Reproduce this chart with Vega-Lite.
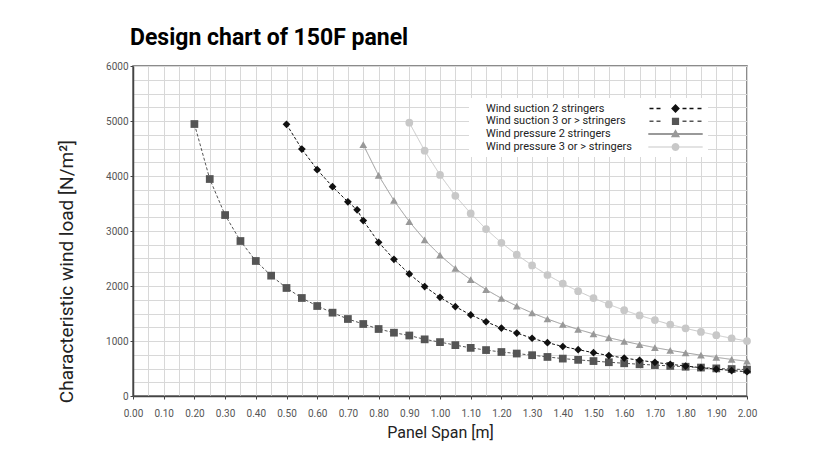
{
  "$schema": "https://vega.github.io/schema/vega-lite/v6.json",
  "width": 614,
  "height": 330,
  "autosize": {"type": "none"},
  "padding": {"left": 133, "top": 66, "right": 91, "bottom": 58},
  "background": "white",
  "config": {
    "font": "Roboto",
    "view": {"stroke": "#666666", "strokeWidth": 1.5}
  },
  "title": {
    "text": "Design chart of 150F panel",
    "anchor": "start",
    "frame": "group",
    "font": "Roboto",
    "fontSize": 23,
    "fontWeight": "bold",
    "color": "#000000",
    "baseline": "alphabetic",
    "offset": -7,
    "dx": -3
  },
  "resolve": {"scale": {"color": "independent", "shape": "independent"}},
  "data": {
    "values": [
      {"series": "Wind pressure 3 or > stringers", "x": 0.9, "y": 4970},
      {"series": "Wind pressure 3 or > stringers", "x": 0.95, "y": 4460},
      {"series": "Wind pressure 3 or > stringers", "x": 1.0, "y": 4020},
      {"series": "Wind pressure 3 or > stringers", "x": 1.05, "y": 3640},
      {"series": "Wind pressure 3 or > stringers", "x": 1.1, "y": 3320},
      {"series": "Wind pressure 3 or > stringers", "x": 1.15, "y": 3035},
      {"series": "Wind pressure 3 or > stringers", "x": 1.2, "y": 2785},
      {"series": "Wind pressure 3 or > stringers", "x": 1.25, "y": 2570},
      {"series": "Wind pressure 3 or > stringers", "x": 1.3, "y": 2375},
      {"series": "Wind pressure 3 or > stringers", "x": 1.35, "y": 2200},
      {"series": "Wind pressure 3 or > stringers", "x": 1.4, "y": 2045},
      {"series": "Wind pressure 3 or > stringers", "x": 1.45, "y": 1905},
      {"series": "Wind pressure 3 or > stringers", "x": 1.5, "y": 1780},
      {"series": "Wind pressure 3 or > stringers", "x": 1.55, "y": 1665},
      {"series": "Wind pressure 3 or > stringers", "x": 1.6, "y": 1560},
      {"series": "Wind pressure 3 or > stringers", "x": 1.65, "y": 1465},
      {"series": "Wind pressure 3 or > stringers", "x": 1.7, "y": 1380},
      {"series": "Wind pressure 3 or > stringers", "x": 1.75, "y": 1300},
      {"series": "Wind pressure 3 or > stringers", "x": 1.8, "y": 1230},
      {"series": "Wind pressure 3 or > stringers", "x": 1.85, "y": 1165},
      {"series": "Wind pressure 3 or > stringers", "x": 1.9, "y": 1105},
      {"series": "Wind pressure 3 or > stringers", "x": 1.95, "y": 1050},
      {"series": "Wind pressure 3 or > stringers", "x": 2.0, "y": 1000},

      {"series": "Wind pressure 2 stringers", "x": 0.75, "y": 4570},
      {"series": "Wind pressure 2 stringers", "x": 0.8, "y": 4010},
      {"series": "Wind pressure 2 stringers", "x": 0.85, "y": 3555},
      {"series": "Wind pressure 2 stringers", "x": 0.9, "y": 3170},
      {"series": "Wind pressure 2 stringers", "x": 0.95, "y": 2840},
      {"series": "Wind pressure 2 stringers", "x": 1.0, "y": 2560},
      {"series": "Wind pressure 2 stringers", "x": 1.05, "y": 2320},
      {"series": "Wind pressure 2 stringers", "x": 1.1, "y": 2115},
      {"series": "Wind pressure 2 stringers", "x": 1.15, "y": 1935},
      {"series": "Wind pressure 2 stringers", "x": 1.2, "y": 1775},
      {"series": "Wind pressure 2 stringers", "x": 1.25, "y": 1635},
      {"series": "Wind pressure 2 stringers", "x": 1.3, "y": 1510},
      {"series": "Wind pressure 2 stringers", "x": 1.35, "y": 1400},
      {"series": "Wind pressure 2 stringers", "x": 1.4, "y": 1300},
      {"series": "Wind pressure 2 stringers", "x": 1.45, "y": 1210},
      {"series": "Wind pressure 2 stringers", "x": 1.5, "y": 1130},
      {"series": "Wind pressure 2 stringers", "x": 1.55, "y": 1060},
      {"series": "Wind pressure 2 stringers", "x": 1.6, "y": 995},
      {"series": "Wind pressure 2 stringers", "x": 1.65, "y": 935},
      {"series": "Wind pressure 2 stringers", "x": 1.7, "y": 880},
      {"series": "Wind pressure 2 stringers", "x": 1.75, "y": 830},
      {"series": "Wind pressure 2 stringers", "x": 1.8, "y": 785},
      {"series": "Wind pressure 2 stringers", "x": 1.85, "y": 742},
      {"series": "Wind pressure 2 stringers", "x": 1.9, "y": 703},
      {"series": "Wind pressure 2 stringers", "x": 1.95, "y": 665},
      {"series": "Wind pressure 2 stringers", "x": 2.0, "y": 632},

      {"series": "Wind suction 3 or > stringers", "x": 0.2, "y": 4945},
      {"series": "Wind suction 3 or > stringers", "x": 0.25, "y": 3945},
      {"series": "Wind suction 3 or > stringers", "x": 0.3, "y": 3290},
      {"series": "Wind suction 3 or > stringers", "x": 0.35, "y": 2818},
      {"series": "Wind suction 3 or > stringers", "x": 0.4, "y": 2455},
      {"series": "Wind suction 3 or > stringers", "x": 0.45, "y": 2188},
      {"series": "Wind suction 3 or > stringers", "x": 0.5, "y": 1964},
      {"series": "Wind suction 3 or > stringers", "x": 0.55, "y": 1782},
      {"series": "Wind suction 3 or > stringers", "x": 0.6, "y": 1636},
      {"series": "Wind suction 3 or > stringers", "x": 0.65, "y": 1515},
      {"series": "Wind suction 3 or > stringers", "x": 0.7, "y": 1400},
      {"series": "Wind suction 3 or > stringers", "x": 0.75, "y": 1309},
      {"series": "Wind suction 3 or > stringers", "x": 0.8, "y": 1218},
      {"series": "Wind suction 3 or > stringers", "x": 0.85, "y": 1151},
      {"series": "Wind suction 3 or > stringers", "x": 0.9, "y": 1100},
      {"series": "Wind suction 3 or > stringers", "x": 0.95, "y": 1030},
      {"series": "Wind suction 3 or > stringers", "x": 1.0, "y": 980},
      {"series": "Wind suction 3 or > stringers", "x": 1.05, "y": 925},
      {"series": "Wind suction 3 or > stringers", "x": 1.1, "y": 875},
      {"series": "Wind suction 3 or > stringers", "x": 1.15, "y": 835},
      {"series": "Wind suction 3 or > stringers", "x": 1.2, "y": 800},
      {"series": "Wind suction 3 or > stringers", "x": 1.25, "y": 772},
      {"series": "Wind suction 3 or > stringers", "x": 1.3, "y": 742},
      {"series": "Wind suction 3 or > stringers", "x": 1.35, "y": 710},
      {"series": "Wind suction 3 or > stringers", "x": 1.4, "y": 680},
      {"series": "Wind suction 3 or > stringers", "x": 1.45, "y": 657},
      {"series": "Wind suction 3 or > stringers", "x": 1.5, "y": 635},
      {"series": "Wind suction 3 or > stringers", "x": 1.55, "y": 614},
      {"series": "Wind suction 3 or > stringers", "x": 1.6, "y": 595},
      {"series": "Wind suction 3 or > stringers", "x": 1.65, "y": 577},
      {"series": "Wind suction 3 or > stringers", "x": 1.7, "y": 562},
      {"series": "Wind suction 3 or > stringers", "x": 1.75, "y": 547},
      {"series": "Wind suction 3 or > stringers", "x": 1.8, "y": 532},
      {"series": "Wind suction 3 or > stringers", "x": 1.85, "y": 517},
      {"series": "Wind suction 3 or > stringers", "x": 1.9, "y": 502},
      {"series": "Wind suction 3 or > stringers", "x": 1.95, "y": 490},
      {"series": "Wind suction 3 or > stringers", "x": 2.0, "y": 480},

      {"series": "Wind suction 2 stringers", "x": 0.5, "y": 4940},
      {"series": "Wind suction 2 stringers", "x": 0.55, "y": 4490},
      {"series": "Wind suction 2 stringers", "x": 0.6, "y": 4115},
      {"series": "Wind suction 2 stringers", "x": 0.65, "y": 3805},
      {"series": "Wind suction 2 stringers", "x": 0.7, "y": 3530},
      {"series": "Wind suction 2 stringers", "x": 0.73, "y": 3385},
      {"series": "Wind suction 2 stringers", "x": 0.75, "y": 3190},
      {"series": "Wind suction 2 stringers", "x": 0.8, "y": 2795},
      {"series": "Wind suction 2 stringers", "x": 0.85, "y": 2485},
      {"series": "Wind suction 2 stringers", "x": 0.9, "y": 2220},
      {"series": "Wind suction 2 stringers", "x": 0.95, "y": 1990},
      {"series": "Wind suction 2 stringers", "x": 1.0, "y": 1795},
      {"series": "Wind suction 2 stringers", "x": 1.05, "y": 1625},
      {"series": "Wind suction 2 stringers", "x": 1.1, "y": 1475},
      {"series": "Wind suction 2 stringers", "x": 1.15, "y": 1350},
      {"series": "Wind suction 2 stringers", "x": 1.2, "y": 1235},
      {"series": "Wind suction 2 stringers", "x": 1.25, "y": 1145},
      {"series": "Wind suction 2 stringers", "x": 1.3, "y": 1050},
      {"series": "Wind suction 2 stringers", "x": 1.35, "y": 970},
      {"series": "Wind suction 2 stringers", "x": 1.4, "y": 900},
      {"series": "Wind suction 2 stringers", "x": 1.45, "y": 843},
      {"series": "Wind suction 2 stringers", "x": 1.5, "y": 787},
      {"series": "Wind suction 2 stringers", "x": 1.55, "y": 735},
      {"series": "Wind suction 2 stringers", "x": 1.6, "y": 690},
      {"series": "Wind suction 2 stringers", "x": 1.65, "y": 650},
      {"series": "Wind suction 2 stringers", "x": 1.7, "y": 612},
      {"series": "Wind suction 2 stringers", "x": 1.75, "y": 577},
      {"series": "Wind suction 2 stringers", "x": 1.8, "y": 545},
      {"series": "Wind suction 2 stringers", "x": 1.85, "y": 515},
      {"series": "Wind suction 2 stringers", "x": 1.9, "y": 488},
      {"series": "Wind suction 2 stringers", "x": 1.95, "y": 463},
      {"series": "Wind suction 2 stringers", "x": 2.0, "y": 442}
    ]
  },
  "encoding": {
    "x": {
      "field": "x",
      "type": "quantitative",
      "scale": {"domain": [0, 2], "nice": false, "zero": false},
      "axis": {
        "title": "Panel Span [m]",
        "titleFont": "Roboto",
        "titleFontSize": 16,
        "titleFontWeight": "normal",
        "titleColor": "#222222",
        "titleBaseline": "top",
        "titleY": 28,
        "values": [0, 0.05, 0.1, 0.15, 0.2, 0.25, 0.3, 0.35, 0.4, 0.45, 0.5, 0.55, 0.6, 0.65, 0.7, 0.75, 0.8, 0.85, 0.9, 0.95, 1, 1.05, 1.1, 1.15, 1.2, 1.25, 1.3, 1.35, 1.4, 1.45, 1.5, 1.55, 1.6, 1.65, 1.7, 1.75, 1.8, 1.85, 1.9, 1.95, 2],
        "labelExpr": "round(datum.value * 100) % 10 === 0 ? format(datum.value, '.2f') : ''",
        "labelFont": "Roboto",
        "labelFontSize": 10,
        "labelColor": "#555555",
        "labelPadding": 9,
        "labelOverlap": false,
        "labelFlush": false,
        "tickSize": 3,
        "tickColor": "#444444",
        "tickOpacity": {"condition": {"test": "round(datum.value * 100) % 10 === 0", "value": 1}, "value": 0},
        "domainColor": "#444444",
        "domainWidth": 1.5,
        "gridColor": "#d8d8d8",
        "gridWidth": 1
      }
    },
    "y": {
      "field": "y",
      "type": "quantitative",
      "scale": {"domain": [0, 6000], "nice": false},
      "axis": {
        "title": "Characteristic wind load [N/m²]",
        "titleFont": "Roboto",
        "titleFontSize": 19,
        "titleFontWeight": "normal",
        "titleColor": "#222222",
        "titleX": -67,
        "titleY": 205,
        "titleAlign": "center",
        "titleBaseline": "middle",
        "values": [0, 250, 500, 750, 1000, 1250, 1500, 1750, 2000, 2250, 2500, 2750, 3000, 3250, 3500, 3750, 4000, 4250, 4500, 4750, 5000, 5250, 5500, 5750, 6000],
        "labelExpr": "datum.value % 1000 === 0 ? format(datum.value, 'd') : ''",
        "labelFont": "Roboto",
        "labelFontSize": 10,
        "labelColor": "#555555",
        "labelPadding": 2,
        "labelOverlap": false,
        "labelFlush": false,
        "tickSize": 3,
        "tickColor": "#444444",
        "tickOpacity": {"condition": {"test": "datum.value % 1000 === 0", "value": 1}, "value": 0},
        "domainColor": "#444444",
        "domainWidth": 1.5,
        "gridColor": "#d8d8d8",
        "gridWidth": 1
      }
    }
  },
  "layer": [
    {
      "mark": {"type": "line", "strokeWidth": 1},
      "encoding": {
        "stroke": {
          "field": "series",
          "type": "nominal",
          "scale": {
            "domain": ["Wind pressure 3 or > stringers", "Wind pressure 2 stringers", "Wind suction 3 or > stringers", "Wind suction 2 stringers"],
            "range": ["#c8c8c8", "#999999", "#555555", "#111111"]
          },
          "legend": null
        },
        "strokeDash": {
          "field": "series",
          "type": "nominal",
          "scale": {
            "domain": ["Wind suction 3 or > stringers", "Wind suction 2 stringers", "Wind pressure 3 or > stringers", "Wind pressure 2 stringers"],
            "range": [[3, 2], [3, 2], [1, 0], [1, 0]]
          },
          "legend": null
        }
      }
    },
    {
      "mark": {"type": "point", "filled": true, "size": 60, "opacity": 1},
      "encoding": {
        "color": {
          "field": "series",
          "type": "nominal",
          "scale": {
            "domain": ["Wind pressure 3 or > stringers", "Wind pressure 2 stringers", "Wind suction 3 or > stringers", "Wind suction 2 stringers"],
            "range": ["#c8c8c8", "#999999", "#555555", "#111111"]
          },
          "legend": null
        },
        "shape": {
          "field": "series",
          "type": "nominal",
          "scale": {
            "domain": ["Wind pressure 3 or > stringers", "Wind pressure 2 stringers", "Wind suction 3 or > stringers", "Wind suction 2 stringers"],
            "range": ["circle", "triangle-up", "square", "diamond"]
          },
          "legend": null
        }
      }
    },
    {
      "transform": [{"filter": "datum.y < 0"}],
      "mark": {"type": "point", "filled": true, "size": 64, "opacity": 1},
      "encoding": {
        "color": {
          "field": "series",
          "type": "nominal",
          "scale": {
            "domain": ["Wind suction 2 stringers", "Wind suction 3 or > stringers", "Wind pressure 2 stringers", "Wind pressure 3 or > stringers"],
            "range": ["#111111", "#555555", "#999999", "#c8c8c8"]
          },
          "legend": {
            "title": null,
            "orient": "none",
            "legendX": 336,
            "legendY": 32,
            "fillColor": "white",
            "padding": 5,
            "symbolSize": 64,
            "symbolOffset": 196,
            "symbolStrokeWidth": 0,
            "labelOffset": -195,
            "labelFont": "Roboto",
            "labelFontSize": 11,
            "labelColor": "#222222",
            "labelLimit": 300,
            "rowPadding": 0.8
          }
        },
        "shape": {
          "field": "series",
          "type": "nominal",
          "scale": {
            "domain": ["Wind suction 2 stringers", "Wind suction 3 or > stringers", "Wind pressure 2 stringers", "Wind pressure 3 or > stringers"],
            "range": [
              "M-6.5,-0.2H-5.5V0.2H-6.5Z M-4.75,-0.2H-3.75V0.2H-4.75Z M-1.1,0L0,-1.1L1.1,0L0,1.1Z M1.75,-0.2H2.75V0.2H1.75Z M3.5,-0.2H4.5V0.2H3.5Z M5.5,-0.2H6.5V0.2H5.5Z",
              "M-6.5,-0.2H-5.5V0.2H-6.5Z M-4.75,-0.2H-3.75V0.2H-4.75Z M-0.9,-0.9H0.9V0.9H-0.9Z M1.75,-0.2H2.75V0.2H1.75Z M3.5,-0.2H4.5V0.2H3.5Z M5.5,-0.2H6.5V0.2H5.5Z",
              "M-6.8,-0.25H6.8V0.25H-6.8Z M0,-1.2L1.15,0.8H-1.15Z",
              "M-6.8,-0.12H6.8V0.12H-6.8Z M1,0L0.87,0.5L0.5,0.87L0,1L-0.5,0.87L-0.87,0.5L-1,0L-0.87,-0.5L-0.5,-0.87L0,-1L0.5,-0.87L0.87,-0.5Z"
            ]
          },
          "legend": {
            "title": null,
            "orient": "none",
            "legendX": 336,
            "legendY": 32,
            "fillColor": "white",
            "padding": 5,
            "symbolSize": 64,
            "symbolOffset": 196,
            "symbolStrokeWidth": 0,
            "labelOffset": -195,
            "labelFont": "Roboto",
            "labelFontSize": 11,
            "labelColor": "#222222",
            "labelLimit": 300,
            "rowPadding": 0.8
          }
        }
      }
    }
  ]
}
